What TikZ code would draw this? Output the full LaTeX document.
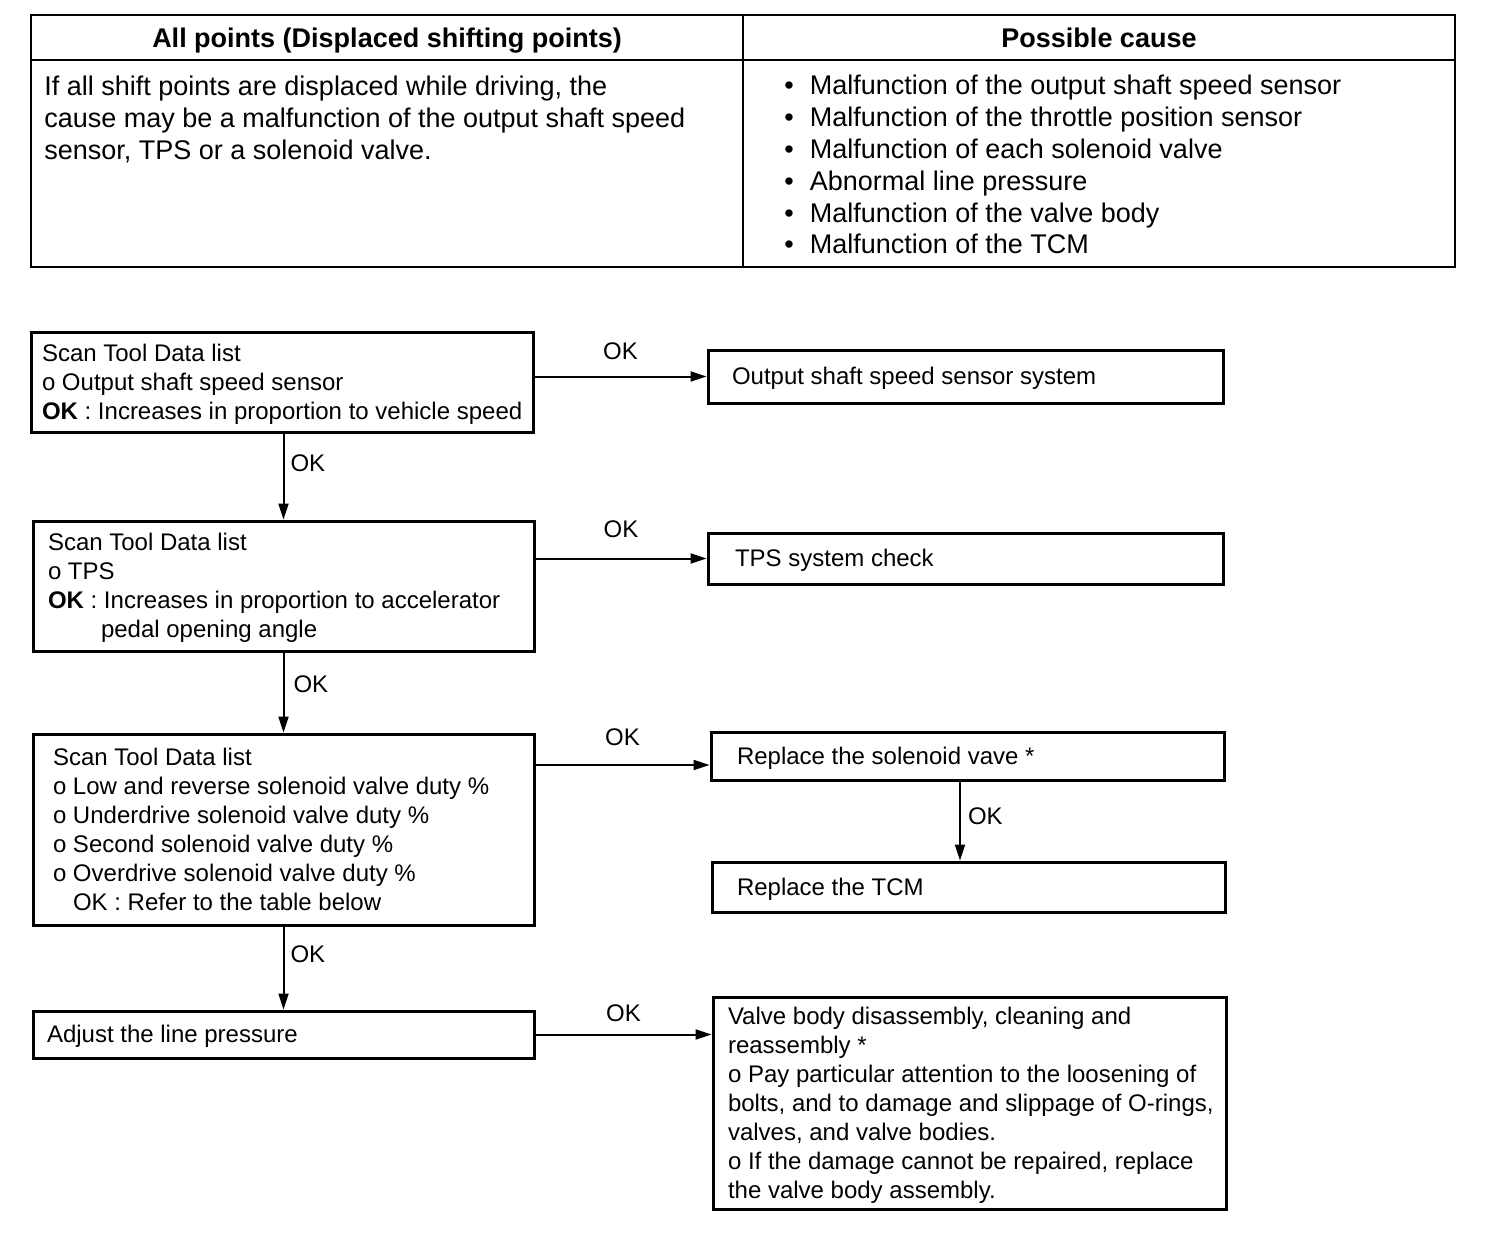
\documentclass[tikz,border=0pt]{standalone}
\usepackage{fontspec}
\setmainfont{Liberation Sans}
\usetikzlibrary{arrows.meta}
\newcommand\fsb{\fontsize{12}{14.5}\selectfont}
\newcommand\fst{\fontsize{13.5}{15.9}\selectfont}
\newcommand\tabtext[1]{\begin{tabular}{@{}l@{}}#1\end{tabular}}
\newcommand\boxtext[2]{\makebox[#1][l]{\raisebox{-1.2pt}[\height][\depth]{\begin{tabular}{@{}l@{}}#2\end{tabular}}}}
\begin{document}
\begin{tikzpicture}[x=0.5pt,y=-0.5pt,
  box/.style={draw, line width=1.5pt, inner ysep=0pt, font=\fsb},
  tbl/.style={line width=1.3pt},
  hdr/.style={font=\fst\bfseries, inner sep=0pt, anchor=base},
  tt/.style={font=\fst, inner sep=0pt},
  arr/.style={line width=1pt, -{Triangle[length=8pt,width=5pt]}},
  lbl/.style={font=\fsb, inner sep=0pt}]
\useasboundingbox (0,0) rectangle (1504,1246);
% table
\draw[tbl] (31,15) rectangle (1455,267);
\draw[tbl] (31,60) -- (1455,60);
\draw[tbl] (743,15) -- (743,267);
\node[hdr] (h1) at (387,47.5) {All points (Displaced shifting points)};
\node[hdr] (h2) at (1099,47.5) {Possible cause};
\node[tt, anchor=west] (t1) at (44,121) {\tabtext{If all shift points are displaced while driving, the\\ cause may be a malfunction of the output shaft speed\\ sensor, TPS or a solenoid valve.}};
\node[tt, anchor=west] (t2) at (784,168) {\begin{tabular}{@{}l@{\hspace{8pt}}l@{}}
\textbullet & Malfunction of the output shaft speed sensor\\
\textbullet & Malfunction of the throttle position sensor\\
\textbullet & Malfunction of each solenoid valve\\
\textbullet & Abnormal line pressure\\
\textbullet & Malfunction of the valve body\\
\textbullet & Malfunction of the TCM
\end{tabular}};
% flowchart boxes
\node[box, minimum height=50pt, inner xsep=5.5pt] (b1) at (282,382) {\boxtext{240pt}{Scan Tool Data list\\ o Output shaft speed sensor\\ \textbf{OK} : Increases in proportion to vehicle speed}};
\node[box, minimum height=65pt, inner xsep=7.5pt] (b2) at (283.5,586) {\boxtext{235.5pt}{Scan Tool Data list\\ o TPS\\ \textbf{OK} : Increases in proportion to accelerator\\ \hspace*{26.5pt}pedal opening angle}};
\node[box, minimum height=95.5pt, inner xsep=10pt] (b3) at (283.5,829.5) {\boxtext{230.5pt}{Scan Tool Data list\\ o Low and reverse solenoid valve duty \%\\ o Underdrive solenoid valve duty \%\\ o Second solenoid valve duty \%\\ o Overdrive solenoid valve duty \%\\ \hspace*{10pt}OK : Refer to the table below}};
\node[box, minimum height=23.5pt, inner xsep=7pt] (b4) at (283.5,1034.5) {\boxtext{236.5pt}{Adjust the line pressure}};
\node[box, minimum height=26.5pt, inner xsep=12pt] (r1) at (965.5,376.5) {\boxtext{233.5pt}{Output shaft speed sensor system}};
\node[box, minimum height=25.5pt, inner xsep=13.5pt] (r2) at (965.5,558.5) {\boxtext{230.5pt}{TPS system check}};
\node[box, minimum height=24pt, inner xsep=13pt] (r3) at (967.5,756) {\boxtext{230.5pt}{Replace the solenoid vave *}};
\node[box, minimum height=25pt, inner xsep=12.5pt] (r4) at (968.5,887) {\boxtext{231.5pt}{Replace the TCM}};
\node[box, minimum height=106pt, inner xsep=7.5pt] (r5) at (969.5,1103) {\boxtext{241.5pt}{Valve body disassembly, cleaning and\\ reassembly *\\ o Pay particular attention to the loosening of\\ bolts, and to damage and slippage of O-rings,\\ valves, and valve bodies.\\ o If the damage cannot be repaired, replace\\ the valve body assembly.}};
% connectors
\coordinate (a3) at ([yshift=-4.5pt]r3.west);
\coordinate (v4) at ([xshift=-3.75pt]r3.south);
\draw[arr] (b1.east |- r1) -- node[lbl, above=8pt] {OK} (r1.west);
\draw[arr] (b2.east |- r2) -- node[lbl, above=10pt] {OK} (r2.west);
\draw[arr] (b3.east |- a3) -- node[lbl, above=9pt] {OK} (a3);
\draw[arr] (b4.east) -- node[lbl, above=6pt] {OK} (b4.east -| r5.west);
\draw[arr] (b2.north |- b1.south) -- node[lbl, pos=0.35, right=3pt] {OK} (b2.north);
\draw[arr] (b2.south) -- node[lbl, pos=0.4, right=4.5pt] {OK} (b3.north);
\draw[arr] (b3.south) -- node[lbl, pos=0.34, right=3pt] {OK} (b4.north);
\draw[arr] (v4) -- node[lbl, pos=0.44, right=3.5pt] {OK} (v4 |- r4.north);
\end{tikzpicture}
\end{document}
